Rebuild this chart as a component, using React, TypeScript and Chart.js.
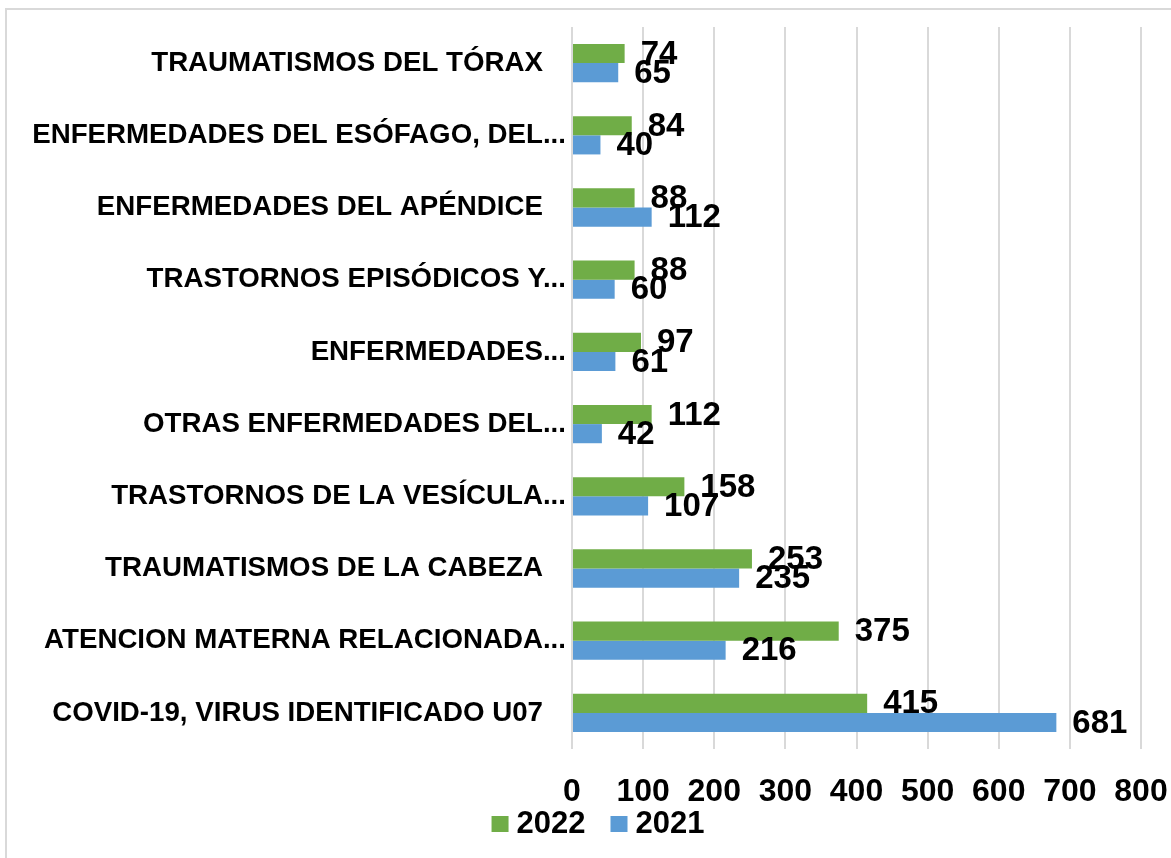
import React, { useEffect, useRef } from "react";
import { Chart, registerables } from "chart.js";

Chart.register(...registerables);

const FONT = "'Liberation Sans', Arial, sans-serif";

const categories = [
  "TRAUMATISMOS DEL TÓRAX   ",
  "ENFERMEDADES DEL ESÓFAGO, DEL...",
  "ENFERMEDADES DEL APÉNDICE   ",
  "TRASTORNOS EPISÓDICOS Y...",
  "ENFERMEDADES...",
  "OTRAS ENFERMEDADES DEL...",
  "TRASTORNOS DE LA VESÍCULA...",
  "TRAUMATISMOS DE LA CABEZA   ",
  "ATENCION MATERNA RELACIONADA...",
  "COVID-19, VIRUS IDENTIFICADO U07   ",
];
const seriesLabels = ["2022", "2021"];
const values2022 = [74, 84, 88, 88, 97, 112, 158, 253, 375, 415];
const values2021 = [65, 40, 112, 60, 61, 42, 107, 235, 216, 681];
const seriesColors = ["#70AD47", "#5B9BD5"];
const xMin = 0;
const xMax = 800;
const xStep = 100;

const valueLabels = {
  id: "valueLabels",
  afterDatasetsDraw(chart: any) {
    const ctx = chart.ctx;
    ctx.save();
    ctx.font = `bold 33px ${FONT}`;
    ctx.fillStyle = "#000";
    ctx.textAlign = "left";
    ctx.textBaseline = "middle";
    chart.data.datasets.forEach((ds: any, di: number) => {
      const meta = chart.getDatasetMeta(di);
      meta.data.forEach((el: any, i: number) => {
        ctx.fillText(String(ds.data[i]), el.x + 16, el.y + 1);
      });
    });
    ctx.restore();
  },
};

const customLegend = {
  id: "customLegend",
  afterDraw(chart: any) {
    const ctx = chart.ctx;
    ctx.save();
    ctx.font = `bold 31px ${FONT}`;
    ctx.textBaseline = "middle";
    ctx.textAlign = "left";
    const box = 17;
    const gap = 8;
    const itemGap = 25;
    const items = chart.data.datasets.map((ds: any) => ({
      label: ds.label,
      color: ds.backgroundColor,
      w: box + gap + ctx.measureText(ds.label).width,
    }));
    const total = items.reduce((a: number, it: any) => a + it.w, 0) + itemGap * (items.length - 1);
    let x = 598 - total / 2;
    const cy = 824;
    items.forEach((it: any) => {
      ctx.fillStyle = it.color;
      ctx.fillRect(x, cy - 8, box, 16);
      ctx.fillStyle = "#000";
      ctx.fillText(it.label, x + box + gap, cy);
      x += it.w + itemGap;
    });
    ctx.restore();
  },
};

export default function App() {
  const ref = useRef<HTMLCanvasElement | null>(null);

  useEffect(() => {
    if (!ref.current) return;
    const chart = new Chart(ref.current, {
      type: "bar",
      data: {
        labels: categories,
        datasets: [
          {
            label: seriesLabels[0],
            data: values2022,
            backgroundColor: seriesColors[0],
            borderWidth: 0,
          },
          {
            label: seriesLabels[1],
            data: values2021,
            backgroundColor: seriesColors[1],
            borderWidth: 0,
          },
        ],
      },
      options: {
        indexAxis: "y",
        responsive: false,
        animation: false,
        categoryPercentage: 0.53,
        barPercentage: 1,
        layout: { padding: { top: 27, left: 0, right: 30, bottom: 51 } },
        plugins: {
          legend: { display: false },
          tooltip: { enabled: false },
        },
        scales: {
          x: {
            min: xMin,
            max: xMax,
            ticks: {
              stepSize: xStep,
              padding: 24,
              color: "#000",
              font: { size: 32, weight: "bold", family: FONT },
              maxRotation: 0,
            },
            grid: { color: "#d9d9d9", lineWidth: 2, drawTicks: false },
            border: { display: false },
            afterFit: (s: any) => {
              s.height = 58;
              s.paddingLeft = 0;
              s.paddingRight = 0;
            },
          },
          y: {
            ticks: {
              padding: 6,
              color: "#000",
              autoSkip: false,
              font: { size: 27.7, weight: "bold", family: FONT },
            },
            grid: { display: false, drawTicks: false },
            border: { display: false },
            afterFit: (s: any) => {
              s.width = 572;
            },
          },
        },
      } as any,
      plugins: [valueLabels, customLegend],
    });
    return () => chart.destroy();
  }, []);

  return (
    <div
      style={{
        position: "fixed",
        left: 0,
        top: 0,
        width: 1171,
        height: 858,
        overflow: "hidden",
        background: "#fff",
      }}
    >
      <div
        style={{
          position: "absolute",
          left: 5,
          top: 8,
          width: 1300,
          height: 1000,
          border: "2px solid #d9d9d9",
        }}
      />
      <canvas
        ref={ref}
        width={1171}
        height={858}
        style={{ position: "absolute", left: 0, top: 0 }}
      />
    </div>
  );
}
